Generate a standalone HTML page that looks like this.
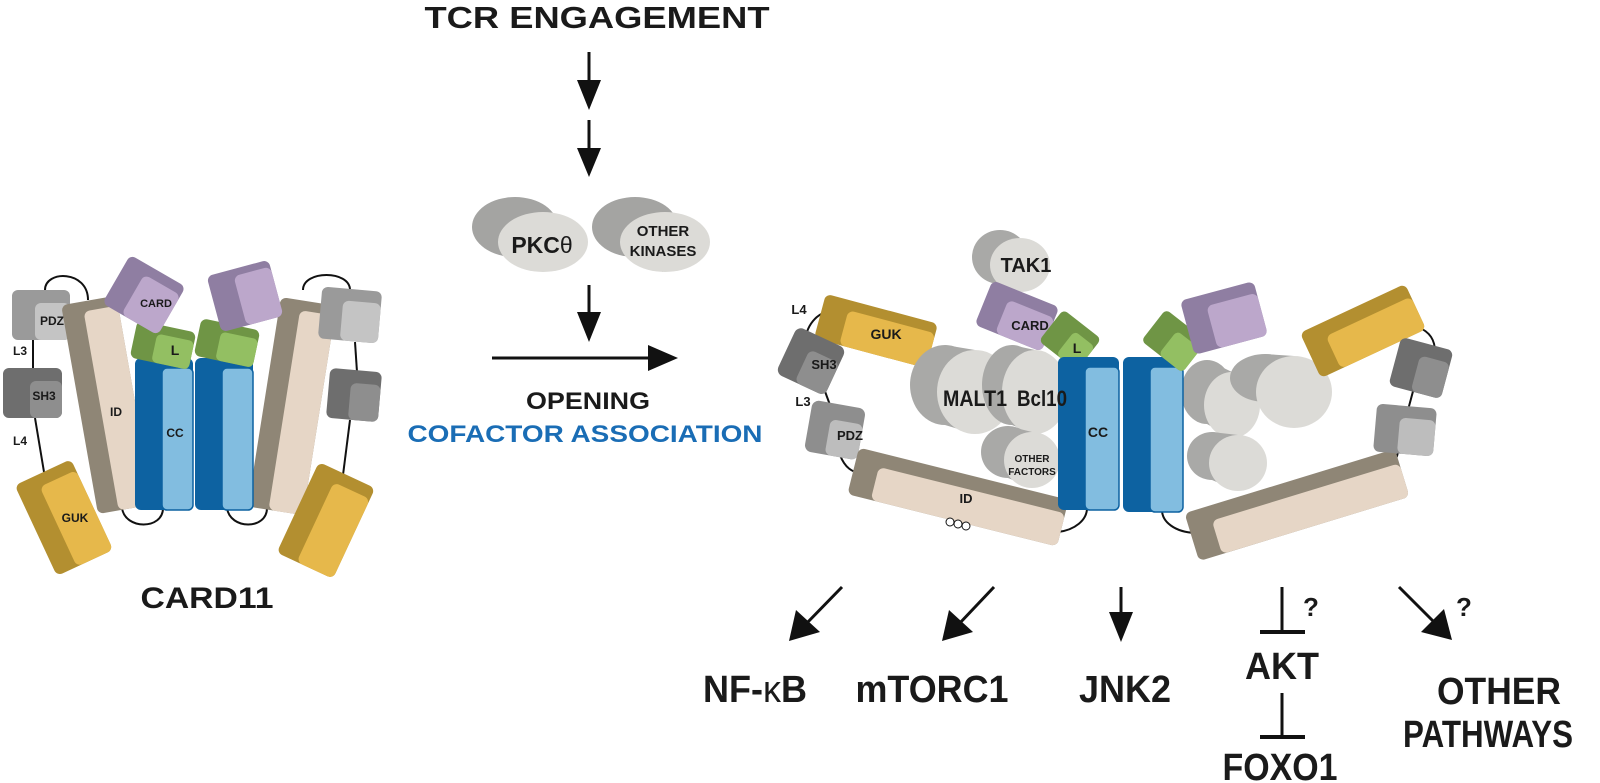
<!DOCTYPE html>
<html><head><meta charset="utf-8"><style>
html,body{margin:0;padding:0;background:#fff;}
svg{display:block;}
text{font-family:"Liberation Sans",Arial,sans-serif;font-weight:bold;fill:#1a1a1a;}
</style></head><body>
<svg width="1600" height="783" viewBox="0 0 1600 783" xmlns="http://www.w3.org/2000/svg">

<!-- ===== TOP / MIDDLE ===== -->
<text x="597" y="28" font-size="31" text-anchor="middle" textLength="345" lengthAdjust="spacingAndGlyphs">TCR ENGAGEMENT</text>
<g stroke="#111" stroke-width="3" fill="#111">
<line x1="589" y1="52" x2="589" y2="90"/><path d="M577,80 L601,80 L589,110 Z" stroke="none"/>
<line x1="589" y1="120" x2="589" y2="158"/><path d="M577,148 L601,148 L589,177 Z" stroke="none"/>
<line x1="589" y1="285" x2="589" y2="322"/><path d="M577,312 L601,312 L589,342 Z" stroke="none"/>
<line x1="492" y1="358" x2="655" y2="358"/><path d="M648,345 L678,358 L648,371 Z" stroke="none"/>
</g>
<g>
<ellipse cx="515" cy="227" rx="43" ry="30" fill="#a4a4a2"/>
<polygon points="515,197 543,212 543,272 515,257" fill="#a4a4a2"/>
<ellipse cx="543" cy="242" rx="45" ry="30" fill="#dcdbd7"/>
<ellipse cx="635" cy="227" rx="43" ry="30" fill="#a4a4a2"/>
<polygon points="635,197 663,212 663,272 635,257" fill="#a4a4a2"/>
<ellipse cx="665" cy="242" rx="45" ry="30" fill="#dcdbd7"/>
</g>
<text x="542" y="253" font-size="23" text-anchor="middle">PKC<tspan font-weight="normal">θ</tspan></text>
<text x="663" y="236" font-size="15" text-anchor="middle">OTHER</text>
<text x="663" y="256" font-size="15" text-anchor="middle">KINASES</text>
<text x="588" y="409" font-size="24" text-anchor="middle" textLength="124" lengthAdjust="spacingAndGlyphs">OPENING</text>
<text x="585" y="442" font-size="24" text-anchor="middle" style="fill:#1a6db5" textLength="355" lengthAdjust="spacingAndGlyphs">COFACTOR ASSOCIATION</text>

<!-- ===== LEFT CARD11 ===== -->
<g fill="none" stroke="#111" stroke-width="2">
<path d="M45,290 C45,270 88,270 88,300"/>
<path d="M303,290 C303,270 350,270 350,290"/>
<path d="M122,508 C125,530 163,530 163,508"/>
<path d="M227,508 C230,530 267,530 267,508"/>
<line x1="33" y1="340" x2="33" y2="370"/>
<line x1="35" y1="418" x2="44" y2="472"/>
<line x1="355" y1="342" x2="357" y2="372"/>
<line x1="350" y1="420" x2="343" y2="475"/>
</g>
<rect x="12" y="290" width="58" height="50" rx="6" fill="#9a9a9a"/>
<rect x="35" y="303" width="35" height="37" rx="6" fill="#c4c4c4"/>
<rect x="3" y="368" width="59" height="50" rx="6" fill="#6e6e6e"/>
<rect x="30" y="381" width="32" height="37" rx="6" fill="#8e8e8e"/>
<g transform="translate(63,518) rotate(-25)">
<rect x="-30" y="-50" width="62" height="100" rx="6" fill="#b38f30"/>
<rect x="-8" y="-38" width="40" height="88" rx="6" fill="#e6b84b"/>
</g>
<g transform="translate(106,404) rotate(-10)">
<rect x="-27" y="-105" width="56" height="212" rx="6" fill="#8f8676"/>
<rect x="-6" y="-95" width="35" height="202" rx="6" fill="#e6d6c6"/>
</g>
<g transform="translate(291,406) rotate(9)">
<rect x="-27" y="-106" width="56" height="212" rx="6" fill="#8f8676"/>
<rect x="-6" y="-96" width="35" height="202" rx="6" fill="#e6d6c6"/>
</g>
<rect x="135" y="358" width="58" height="152" rx="6" fill="#0d62a1"/>
<rect x="162" y="368" width="31" height="142" rx="5" fill="#82bde0" stroke="#0d62a1" stroke-width="1.5"/>
<rect x="195" y="358" width="58" height="152" rx="6" fill="#0d62a1"/>
<rect x="222" y="368" width="31" height="142" rx="5" fill="#82bde0" stroke="#0d62a1" stroke-width="1.5"/>
<g transform="translate(163,345) rotate(12)">
<rect x="-30" y="-19" width="60" height="38" rx="6" fill="#6f9545"/>
<rect x="-8" y="-10" width="38" height="29" rx="5" fill="#93bf62"/>
</g>
<g transform="translate(227,343) rotate(12)">
<rect x="-30" y="-19" width="60" height="38" rx="6" fill="#6f9545"/>
<rect x="-8" y="-10" width="38" height="29" rx="5" fill="#93bf62"/>
</g>
<g transform="translate(144,295) rotate(30)">
<rect x="-32" y="-28" width="64" height="56" rx="6" fill="#8f7ea2"/>
<rect x="-10" y="-18" width="42" height="46" rx="6" fill="#bca7cb"/>
</g>
<g transform="translate(245,296) rotate(-15)">
<rect x="-32" y="-29" width="64" height="58" rx="6" fill="#8f7ea2"/>
<rect x="-6" y="-22" width="38" height="51" rx="6" fill="#bca7cb"/>
</g>
<g transform="translate(350,315) rotate(5)">
<rect x="-30" y="-26" width="60" height="52" rx="6" fill="#9a9a9a"/>
<rect x="-8" y="-14" width="38" height="40" rx="6" fill="#c4c4c4"/>
</g>
<g transform="translate(354,395) rotate(5)">
<rect x="-26" y="-25" width="52" height="50" rx="6" fill="#6e6e6e"/>
<rect x="-4" y="-12" width="30" height="37" rx="6" fill="#8e8e8e"/>
</g>
<g transform="translate(325,520) rotate(25)">
<rect x="-30" y="-50" width="62" height="100" rx="6" fill="#b38f30"/>
<rect x="-8" y="-38" width="40" height="88" rx="6" fill="#e6b84b"/>
</g>
<g font-size="12">
<text x="52" y="325" text-anchor="middle">PDZ</text>
<text x="20" y="355" text-anchor="middle">L3</text>
<text x="44" y="400" text-anchor="middle">SH3</text>
<text x="20" y="445" text-anchor="middle">L4</text>
<text x="116" y="416" text-anchor="middle">ID</text>
<text x="175" y="437" text-anchor="middle">CC</text>
<text x="156" y="307" text-anchor="middle" font-size="11">CARD</text>
<text x="175" y="355" text-anchor="middle" font-size="14">L</text>
<text x="75" y="522" text-anchor="middle">GUK</text>
</g>
<text x="207" y="608" font-size="30" text-anchor="middle" textLength="133" lengthAdjust="spacingAndGlyphs">CARD11</text>

<!-- ===== RIGHT STRUCTURE ===== -->
<g fill="none" stroke="#111" stroke-width="2">
<path d="M805,345 C805,325 818,312 830,312"/>
<line x1="823" y1="386" x2="830" y2="405"/>
<path d="M840,455 C845,468 852,472 862,474"/>
<path d="M1058,532 C1075,530 1087,520 1087,508"/>
<path d="M1162,510 C1162,522 1175,532 1195,533"/>
<path d="M1418,327 C1430,332 1435,340 1435,352"/>
<line x1="1416" y1="380" x2="1408" y2="410"/>
<path d="M1398,452 C1396,462 1392,467 1388,470"/>
<line x1="1048" y1="325" x2="1060" y2="330"/>
<line x1="1183" y1="338" x2="1193" y2="333"/>
</g>
<g transform="translate(876,331) rotate(15)">
<rect x="-58" y="-23" width="116" height="46" rx="6" fill="#b38f30"/>
<rect x="-32" y="-13" width="90" height="36" rx="6" fill="#e6b84b"/>
</g>
<g transform="translate(811,361) rotate(25)">
<rect x="-27" y="-26" width="54" height="52" rx="7" fill="#6e6e6e"/>
<rect x="-6" y="-10" width="33" height="36" rx="6" fill="#8e8e8e"/>
</g>
<g transform="translate(835,430) rotate(10)">
<rect x="-27" y="-26" width="54" height="52" rx="7" fill="#8e8e8e"/>
<rect x="-6" y="-10" width="33" height="36" rx="6" fill="#bdbdbd"/>
</g>
<g transform="translate(958,497) rotate(14)">
<rect x="-108" y="-24" width="216" height="48" rx="6" fill="#8f8676"/>
<rect x="-84" y="-10" width="192" height="34" rx="6" fill="#e6d6c6"/>
</g>
<circle cx="950" cy="522" r="4" fill="#fff" stroke="#111"/><circle cx="958" cy="524" r="4" fill="#fff" stroke="#111"/><circle cx="966" cy="526" r="4" fill="#fff" stroke="#111"/>
<g transform="translate(1297,505) rotate(-17)">
<rect x="-110" y="-25" width="220" height="50" rx="6" fill="#8f8676"/>
<rect x="-86" y="-10" width="196" height="35" rx="6" fill="#e6d6c6"/>
</g>
<g>
<ellipse cx="1000" cy="257" rx="28" ry="27" fill="#a9a9a7"/>
<polygon points="1000,230 1020,238 1020,292 1000,284" fill="#a9a9a7"/>
<ellipse cx="1020" cy="265" rx="30" ry="27" fill="#dcdbd7"/>
<ellipse cx="945" cy="385" rx="35" ry="40" fill="#a9a9a7"/>
<polygon points="945,345 975,350 975,434 945,425" fill="#a9a9a7"/>
<ellipse cx="975" cy="392" rx="38" ry="42" fill="#dcdbd7"/>
<ellipse cx="1012" cy="385" rx="30" ry="40" fill="#a9a9a7"/>
<polygon points="1012,345 1035,350 1035,434 1012,425" fill="#a9a9a7"/>
<ellipse cx="1035" cy="392" rx="33" ry="42" fill="#dcdbd7"/>
<ellipse cx="1008" cy="452" rx="27" ry="26" fill="#a9a9a7"/>
<polygon points="1008,426 1032,432 1032,488 1008,478" fill="#a9a9a7"/>
<ellipse cx="1032" cy="460" rx="28" ry="28" fill="#dcdbd7"/>
<ellipse cx="1207" cy="392" rx="26" ry="32" fill="#a9a9a7"/>
<polygon points="1207,360 1232,372 1232,438 1207,424" fill="#a9a9a7"/>
<ellipse cx="1232" cy="405" rx="28" ry="33" fill="#dcdbd7"/>
<ellipse cx="1265" cy="378" rx="35" ry="24" fill="#a9a9a7"/>
<polygon points="1265,354 1294,356 1294,428 1265,402" fill="#a9a9a7"/>
<ellipse cx="1294" cy="392" rx="38" ry="36" fill="#dcdbd7"/>
<ellipse cx="1212" cy="456" rx="25" ry="24" fill="#a9a9a7"/>
<polygon points="1212,432 1238,435 1238,491 1212,480" fill="#a9a9a7"/>
<ellipse cx="1238" cy="463" rx="29" ry="28" fill="#dcdbd7"/>
</g>
<g transform="translate(1017,316) rotate(22)">
<rect x="-36" y="-24" width="72" height="48" rx="6" fill="#8f7ea2"/>
<rect x="-14" y="-12" width="50" height="36" rx="6" fill="#bca7cb"/>
</g>
<g transform="translate(1070,340) rotate(38)">
<rect x="-24" y="-20" width="48" height="40" rx="5" fill="#6f9545"/>
<rect x="-2" y="-10" width="26" height="30" rx="5" fill="#93bf62"/>
</g>
<rect x="1058" y="357" width="61" height="153" rx="6" fill="#0d62a1"/>
<rect x="1085" y="367" width="34" height="143" rx="5" fill="#82bde0" stroke="#0d62a1" stroke-width="1.5"/>
<rect x="1123" y="357" width="60" height="155" rx="6" fill="#0d62a1"/>
<rect x="1150" y="367" width="33" height="145" rx="5" fill="#82bde0" stroke="#0d62a1" stroke-width="1.5"/>
<g transform="translate(1174,341) rotate(38)">
<rect x="-26" y="-20" width="52" height="40" rx="5" fill="#6f9545"/>
<rect x="-4" y="-10" width="30" height="30" rx="5" fill="#93bf62"/>
</g>
<g transform="translate(1224,318) rotate(-15)">
<rect x="-38" y="-28" width="76" height="56" rx="6" fill="#8f7ea2"/>
<rect x="-14" y="-16" width="52" height="44" rx="6" fill="#bca7cb"/>
</g>
<g transform="translate(1363,331) rotate(-25)">
<rect x="-58" y="-25" width="116" height="50" rx="6" fill="#b38f30"/>
<rect x="-36" y="-11" width="94" height="36" rx="6" fill="#e6b84b"/>
</g>
<g transform="translate(1421,368) rotate(15)">
<rect x="-27" y="-25" width="54" height="50" rx="6" fill="#6e6e6e"/>
<rect x="-4" y="-12" width="31" height="37" rx="6" fill="#8e8e8e"/>
</g>
<g transform="translate(1405,430) rotate(5)">
<rect x="-30" y="-24" width="60" height="48" rx="6" fill="#8e8e8e"/>
<rect x="-6" y="-12" width="36" height="36" rx="6" fill="#bdbdbd"/>
</g>
<g font-size="13">
<text x="799" y="314" text-anchor="middle">L4</text>
<text x="803" y="406" text-anchor="middle">L3</text>
<text x="886" y="339" text-anchor="middle" font-size="14">GUK</text>
<text x="824" y="369" text-anchor="middle">SH3</text>
<text x="850" y="440" text-anchor="middle">PDZ</text>
<text x="966" y="503" text-anchor="middle">ID</text>
<text x="1098" y="437" text-anchor="middle" font-size="14">CC</text>
<text x="1030" y="330" text-anchor="middle" font-size="13">CARD</text>
<text x="1077" y="353" text-anchor="middle" font-size="14">L</text>
</g>
<text x="1026" y="272" font-size="20" text-anchor="middle">TAK1</text>
<text x="975" y="406" font-size="22" text-anchor="middle" textLength="64" lengthAdjust="spacingAndGlyphs">MALT1</text>
<text x="1042" y="406" font-size="22" text-anchor="middle" textLength="50" lengthAdjust="spacingAndGlyphs">Bcl10</text>
<text x="1032" y="462" font-size="10" text-anchor="middle">OTHER</text>
<text x="1032" y="475" font-size="10" text-anchor="middle">FACTORS</text>

<!-- ===== BOTTOM OUTPUTS ===== -->
<g stroke="#111" stroke-width="3" fill="#111">
<line x1="842" y1="587" x2="805" y2="625"/><path d="M789,641 L796,610 L820,632 Z" stroke="none"/>
<line x1="994" y1="587" x2="958" y2="625"/><path d="M942,641 L949,610 L973,632 Z" stroke="none"/>
<line x1="1121" y1="587" x2="1121" y2="620"/><path d="M1109,612 L1133,612 L1121,642 Z" stroke="none"/>
<line x1="1282" y1="587" x2="1282" y2="632"/><line x1="1260" y1="632" x2="1305" y2="632" stroke-width="4"/>
<line x1="1282" y1="693" x2="1282" y2="737"/><line x1="1260" y1="737" x2="1305" y2="737" stroke-width="4"/>
<line x1="1399" y1="587" x2="1436" y2="624"/><path d="M1452,640 L1421,632 L1444,609 Z" stroke="none"/>
</g>
<text x="1303" y="616" font-size="26">?</text>
<text x="1456" y="616" font-size="26">?</text>
<g font-size="38">
<text x="755" y="702" text-anchor="middle" textLength="104" lengthAdjust="spacingAndGlyphs">NF-<tspan style="font-weight:normal">κ</tspan>B</text>
<text x="932" y="702" text-anchor="middle" textLength="153" lengthAdjust="spacingAndGlyphs">mTORC1</text>
<text x="1125" y="702" text-anchor="middle" textLength="92" lengthAdjust="spacingAndGlyphs">JNK2</text>
<text x="1282" y="679" text-anchor="middle" textLength="74" lengthAdjust="spacingAndGlyphs">AKT</text>
<text x="1280" y="780" text-anchor="middle" textLength="115" lengthAdjust="spacingAndGlyphs">FOXO1</text>
<text x="1499" y="704" text-anchor="middle" textLength="124" lengthAdjust="spacingAndGlyphs">OTHER</text>
<text x="1488" y="747" text-anchor="middle" textLength="170" lengthAdjust="spacingAndGlyphs">PATHWAYS</text>
</g>
</svg>
</body></html>
